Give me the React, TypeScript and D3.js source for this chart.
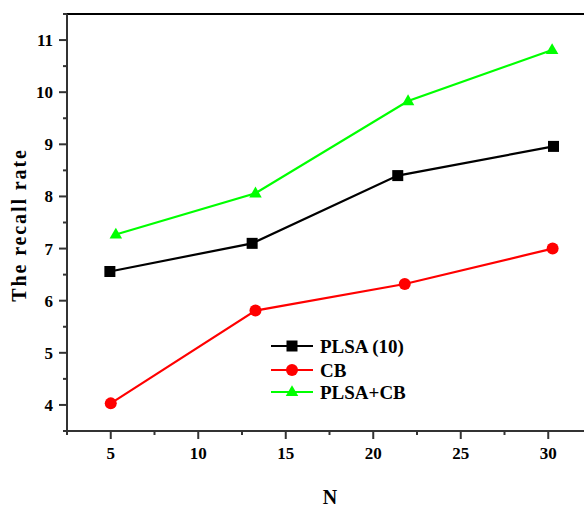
import React from "react";
import * as d3 from "d3";

const plsaX = [4.95, 13.08, 21.4, 30.3];
const plsaY = [6.56, 7.1, 8.4, 8.96];
const cbX = [5.0, 13.27, 21.8, 30.25];
const cbY = [4.03, 5.81, 6.32, 7.0];
const comboX = [5.29, 13.27, 21.99, 30.22];
const comboY = [7.27, 8.06, 9.83, 10.81];
const xTicks = [5, 10, 15, 20, 25, 30];
const yTicks = [4, 5, 6, 7, 8, 9, 10, 11];
const seriesNames = ["PLSA (10)", "CB", "PLSA+CB"];
const seriesColors = ["#000000", "#ff0000", "#00ff00"];

const W = 584;
const H = 507;
const left = 67;
const top = 14;
const bottom = 431;
const right = 592;

export default function App() {
  const x = d3.scaleLinear().domain([2.5, 32.5]).range([left, right]);
  const y = d3.scaleLinear().domain([3.5, 11.5]).range([bottom, top]);
  const line = d3
    .line<[number, number]>()
    .x((d) => x(d[0]))
    .y((d) => y(d[1]));

  const series = [
    { xs: plsaX, ys: plsaY, shape: "square" },
    { xs: cbX, ys: cbY, shape: "circle" },
    { xs: comboX, ys: comboY, shape: "triangle" },
  ];

  const marker = (shape: string, cx: number, cy: number, color: string, key: string) => {
    if (shape === "square")
      return <rect key={key} x={cx - 5.5} y={cy - 5.5} width={11} height={11} fill={color} />;
    if (shape === "circle") return <circle key={key} cx={cx} cy={cy} r={6} fill={color} />;
    const s = 12.5;
    const h = s * 0.866;
    return (
      <path
        key={key}
        d={`M${cx},${cy - h * 0.62} L${cx + s / 2},${cy + h * 0.38} L${cx - s / 2},${cy + h * 0.38} Z`}
        fill={color}
      />
    );
  };

  const xMinor = d3.range(2.5, 33, 2.5).filter((v) => !xTicks.includes(v));
  const yMinor = d3.range(3.5, 11.6, 0.5).filter((v) => !yTicks.includes(v));
  const font = "'Liberation Serif', 'Times New Roman', serif";
  const legendY = [346, 370, 392];

  return (
    <svg
      width={W}
      height={H}
      style={{ position: "absolute", left: 0, top: 0 }}
      fontFamily={font}
      fontWeight="bold"
    >
      <rect width={W} height={H} fill="#fff" />
      <line x1={left} x2={W} y1={top} y2={top} stroke="#000" strokeWidth={2} />
      <line x1={left} x2={left} y1={top} y2={bottom} stroke="#333" strokeWidth={2} />
      <line x1={left} x2={W} y1={bottom} y2={bottom} stroke="#333" strokeWidth={2} />
      {xTicks.map((t) => (
        <g key={"xt" + t}>
          <line x1={x(t)} x2={x(t)} y1={bottom} y2={bottom + 8} stroke="#333" strokeWidth={2} />
          <text x={x(t)} y={bottom + 27.5} textAnchor="middle" fontSize={17}>
            {t}
          </text>
        </g>
      ))}
      {xMinor.map((t) => (
        <line key={"xm" + t} x1={x(t)} x2={x(t)} y1={bottom} y2={bottom + 4} stroke="#333" strokeWidth={2} />
      ))}
      {yTicks.map((t) => (
        <g key={"yt" + t}>
          <line x1={left - 8} x2={left} y1={y(t)} y2={y(t)} stroke="#333" strokeWidth={2} />
          <text x={left - 14} y={y(t) + 6} textAnchor="end" fontSize={17}>
            {t}
          </text>
        </g>
      ))}
      {yMinor.map((t) => (
        <line key={"ym" + t} x1={left - 4} x2={left} y1={y(t)} y2={y(t)} stroke="#333" strokeWidth={2} />
      ))}
      <text
        transform={`translate(26,225) rotate(-90)`}
        textAnchor="middle"
        fontSize={20}
        letterSpacing={1.9}
      >
        The recall rate
      </text>
      <text x={330} y={504} textAnchor="middle" fontSize={20}>
        N
      </text>
      {series.map((s, i) => {
        const pts = s.xs.map((v, j) => [v, s.ys[j]] as [number, number]);
        return (
          <g key={"s" + i}>
            <path d={line(pts) || ""} fill="none" stroke={seriesColors[i]} strokeWidth={2.2} />
            {pts.map((p, j) => marker(s.shape, x(p[0]), y(p[1]), seriesColors[i], `m${i}-${j}`))}
          </g>
        );
      })}
      {seriesNames.map((name, i) => (
        <g key={"lg" + i}>
          <line x1={271} x2={313} y1={legendY[i]} y2={legendY[i]} stroke={seriesColors[i]} strokeWidth={2.2} />
          {marker(series[i].shape, 292, legendY[i], seriesColors[i], "lm" + i)}
          <text x={320} y={legendY[i] + 6.5} fontSize={19}>
            {name}
          </text>
        </g>
      ))}
    </svg>
  );
}
